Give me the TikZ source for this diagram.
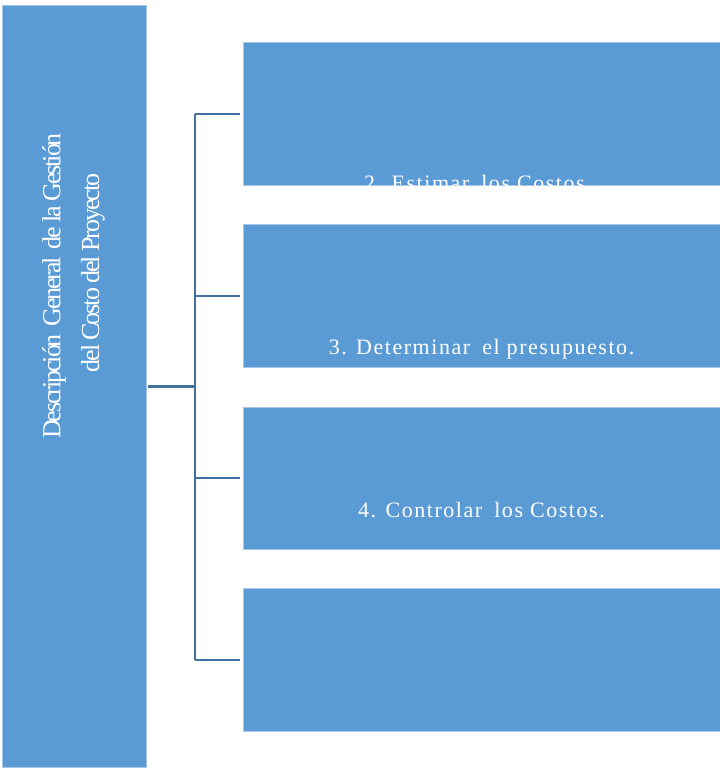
\documentclass[tikz,border=0pt]{standalone}
\usepackage{fontspec}
\setmainfont{Liberation Serif}
\newfontfamily\boxfont[LetterSpace=7]{Liberation Serif}
\newfontfamily\sidefont[LetterSpace=-8]{Liberation Serif}
\definecolor{boxblue}{HTML}{5B9BD5}
\definecolor{boxedge}{HTML}{A9C8E8}
\definecolor{linkblue}{HTML}{41719C}
\begin{document}
\begin{tikzpicture}[x=1pt,y=-1pt,
  panel/.style={fill=boxblue,draw=boxedge,line width=0.8pt},
  steptext/.style={text=white,font=\boxfont\fontsize{22}{26}\selectfont,anchor=base,inner sep=0pt},
  sidetext/.style={text=white,rotate=90,inner sep=0pt,font=\sidefont\fontsize{26}{30}\selectfont},
  link/.style={draw=linkblue,line width=2pt}]
\useasboundingbox (0,0) rectangle (720,769);
% left title panel
\path[panel] (2,5) rectangle (146,767);
\node (root) [minimum width=144pt,minimum height=762pt,inner sep=0pt] at (74,386) {};
\node[sidetext] (t1) at (54,286) {Descripción\hspace{3pt} General\hspace{3pt} de la Gestión};
\node[sidetext] (t2) at (93,273) {del Costo del Proyecto};
% right step panels
\foreach \n/\t/\b in {b1/42/185,b2/224/367,b3/407/549,b4/588/731}{
  \path[panel] (243,\t) rectangle (720,\b);
  \node (\n) [minimum width=477pt,minimum height={\b-\t},inner sep=0pt] at (481.5,{(\t+\b)/2}) {};
}
% step labels
\begin{scope}
  \clip (b1.south west) rectangle (b1.north east);
  \node[steptext] (s2) at (478,190) {2. Estimar\hspace{5pt} los Costos.};
\end{scope}
\node[steptext] (s3) at (481.5,354) {3. Determinar\hspace{5pt} el presupuesto.};
\node[steptext] (s4) at (481.5,517) {4. Controlar\hspace{5pt} los Costos.};
% bracket connectors
\coordinate (hub) at (195,386);
\coordinate (top) at (195,113.5);
\coordinate (bot) at (195,659.5);
\draw[link,line width=3pt] (root.east) ++(2,0) -- (hub);
\draw[link] (top) -- (bot);
\foreach \n in {b1,b2,b3,b4}{
  \draw[link,shorten >=3pt] (top |- \n.west) -- (\n.west);
}
\end{tikzpicture}
\end{document}
